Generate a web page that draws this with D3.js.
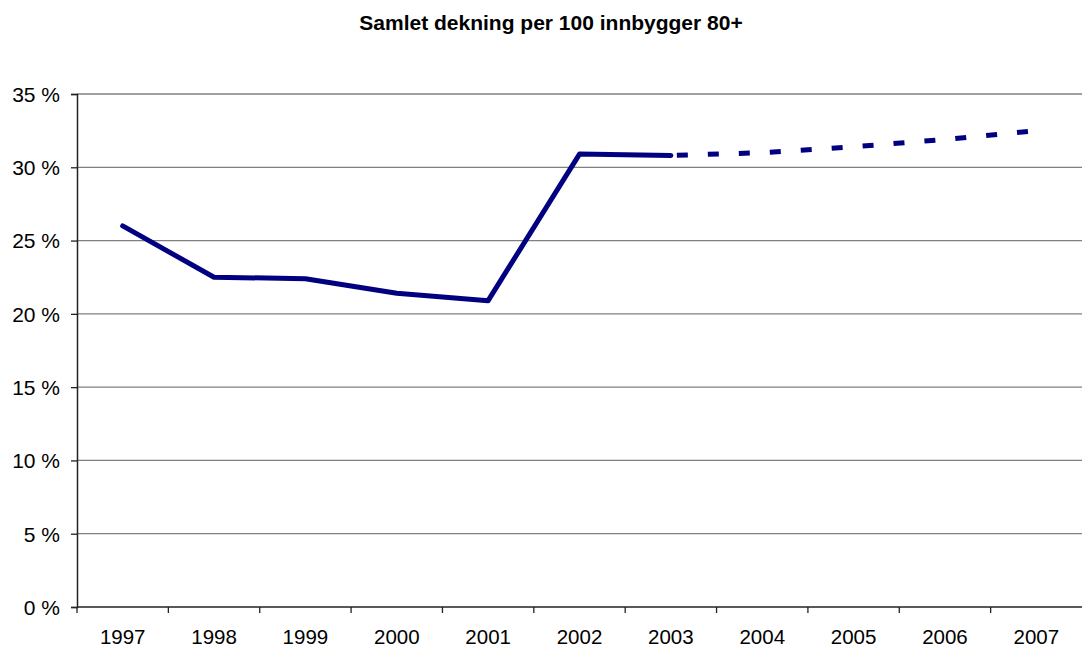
<!DOCTYPE html>
<html>
<head>
<meta charset="utf-8">
<script src="https://cdn.jsdelivr.net/npm/d3@7"></script>
<style>
  body { margin: 0; background: #fff; }
  text { font-family: "Liberation Sans", Arial, sans-serif; }
</style>
</head>
<body>
<div id="chart"></div>
<script>
var years = ["1997", "1998", "1999", "2000", "2001", "2002", "2003", "2004", "2005", "2006", "2007"];
var actual = [26.0, 22.5, 22.4, 21.4, 20.9, 30.9, 30.8];
var projected = [30.8, 31.0, 31.4, 31.9, 32.5];
var yTicks = [0, 5, 10, 15, 20, 25, 30, 35];
var title = "Samlet dekning per 100 innbygger 80+";

const width = 1082;
const height = 647;
const plotLeft = 77, plotRight = 1082, plotTop = 94, plotBottom = 607;

let svg = d3.select('#chart')
    .append('svg')
        .attr('width', width)
        .attr('height', height);

const xScale = d3.scaleBand()
    .domain(years)
    .range([plotLeft, plotRight]);

const yScale = d3.scaleLinear()
    .domain([0, 35])
    .range([plotBottom, plotTop]);

// title
svg.append('text')
    .attr('x', 551)
    .attr('y', 30)
    .attr('text-anchor', 'middle')
    .style('font-size', '21px')
    .style('font-weight', 'bold')
    .text(title);

// gridlines
svg.append('g').selectAll('line')
    .data(yTicks.filter(d => d > 0))
    .enter().append('line')
        .attr('x1', plotLeft)
        .attr('x2', plotRight)
        .attr('y1', d => yScale(d))
        .attr('y2', d => yScale(d))
        .attr('stroke', '#808080')
        .attr('stroke-width', 1.3);

// y axis
let yAxis = svg.append('g')
    .attr('transform', `translate(${plotLeft},0)`)
    .call(d3.axisLeft(yScale).tickValues(yTicks).tickSize(6).tickPadding(11)
        .tickFormat(d => d + ' %'));
yAxis.select('.domain').attr('stroke', '#222').attr('stroke-width', 1.5);
yAxis.selectAll('.tick line').attr('stroke', '#222').attr('stroke-width', 1.3);
yAxis.selectAll('.tick text')
    .style('font-size', '21px')
    .attr('fill', '#000')
    .attr('dy', '0.35em')
    .style('font-family', '"Liberation Sans", Arial, sans-serif');

// x axis
let xAxis = svg.append('g')
    .attr('transform', `translate(0,${plotBottom})`)
    .call(d3.axisBottom(xScale).tickSize(0).tickPadding(22));
xAxis.select('.domain').remove();
svg.append('line')
    .attr('x1', plotLeft).attr('x2', plotRight)
    .attr('y1', plotBottom).attr('y2', plotBottom)
    .attr('stroke', '#222').attr('stroke-width', 1.5);
xAxis.selectAll('.tick text')
    .style('font-size', '20.5px')
    .attr('fill', '#000')
    .style('font-family', '"Liberation Sans", Arial, sans-serif');
// tick marks between categories
svg.append('g').selectAll('line')
    .data(years)
    .enter().append('line')
        .attr('x1', d => xScale(d))
        .attr('x2', d => xScale(d))
        .attr('y1', plotBottom)
        .attr('y2', plotBottom + 6)
        .attr('stroke', '#222')
        .attr('stroke-width', 1.3);

const cx = d => xScale(d) + xScale.bandwidth() / 2;

let line = d3.line()
    .x(d => cx(d.x))
    .y(d => yScale(d.y));

let actualData = actual.map((v, i) => ({x: years[i], y: v}));
let projData = projected.map((v, i) => ({x: years[i + actual.length - 1], y: v}));

svg.append('path')
    .datum(projData)
    .attr('d', line)
    .attr('fill', 'none')
    .attr('stroke', '#000080')
    .attr('stroke-width', 5)
    .attr('stroke-dasharray', '11,20')
    .attr('stroke-dashoffset', 25);

svg.append('path')
    .datum(actualData)
    .attr('d', line)
    .attr('fill', 'none')
    .attr('stroke', '#000080')
    .attr('stroke-width', 5)
    .attr('stroke-linejoin', 'round')
    .attr('stroke-linecap', 'round');
</script>
</body>
</html>
